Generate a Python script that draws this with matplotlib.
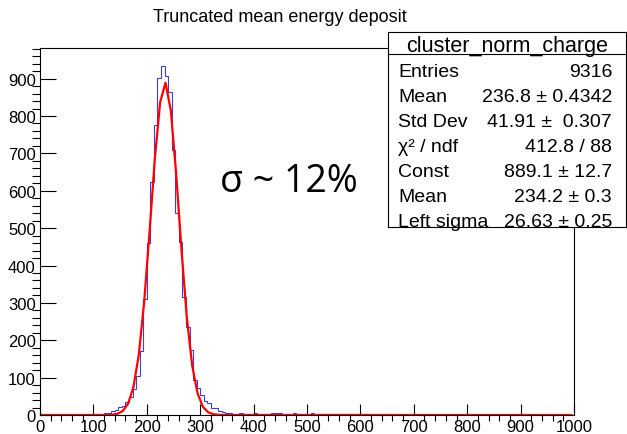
import matplotlib
matplotlib.use("Agg")
import matplotlib.pyplot as plt
import numpy as np

plt.rcParams['font.family'] = ['Liberation Sans', 'DejaVu Sans']

# histogram: 150 bins from 0 to 1000
x_min, x_max, n_bins = 0, 1000, 150
counts = [3, 1, 0, 1, 0, 0, 1, 0, 1, 0, 1, 0, 1, 1, 0,
          4, 3, 3, 5, 5,
          11, 14, 21, 25, 35, 48, 69, 104, 172, 310,
          459, 623, 777, 902, 935, 908, 864, 709, 541, 463,
          316, 235, 173, 94, 72, 53, 37, 33, 20, 18, 12, 9, 6, 5,
          4, 3, 5, 4, 3, 4, 5, 4, 3, 3, 4, 5, 6, 5, 4, 3, 4, 5, 4, 3,
          3, 4, 5, 4, 3, 2, 3, 4, 3, 2, 3, 2, 3, 2, 2, 3,
          1, 2, 1, 0, 1, 1, 0, 2, 1, 0, 1, 0, 1, 1, 0, 0, 1, 0, 1, 0,
          0, 1, 0, 0, 1, 0, 0, 0, 1, 0, 0, 0, 1, 0, 0, 0, 0, 1, 0, 0,
          0, 0, 0, 1, 0, 0, 0, 0, 0, 0, 0, 1, 0, 0, 0, 0, 0, 0, 0, 0]

# fitted curve points
fit_x = [5, 115, 125, 135, 145, 155, 165, 175, 185, 195, 205, 215, 225, 235,
         245, 255, 265, 275, 285, 295, 305, 315, 325, 335, 345, 995]
fit_y = [0, 0, 0.2, 0.9, 3.3, 10.7, 30.4, 75, 161, 301, 487, 685, 837, 889,
         815, 645, 441, 260, 132, 58, 22, 7.1, 2.0, 0.5, 0.1, 0]

title = "Truncated mean energy deposit"
stats_name = "cluster_norm_charge"
stats_labels = ["Entries", "Mean", "Std Dev", "χ² / ndf", "Const", "Mean", "Left sigma"]
stats_values = ["9316", "236.8 ± 0.4342", "41.91 ±  0.307", "412.8 / 88",
                "889.1 ± 12.7", "234.2 ± 0.3", "26.63 ± 0.25"]

W, H = 627, 435
fig = plt.figure(figsize=(W / 100, H / 100), dpi=100)
ax = fig.add_axes([40 / W, 1 - 416 / H, 534 / W, (416 - 49) / H])

edges = np.linspace(x_min, x_max, n_bins + 1)
ax.stairs(counts, edges, color='#4040d0', linewidth=0.8)
ax.plot(fit_x, fit_y, color='red', linewidth=1.6)

ax.set_xlim(x_min, x_max)
ax.set_ylim(0, 982)
ax.set_xticks(np.arange(0, 1001, 100))
ax.set_xticks(np.arange(0, 1001, 20), minor=True)
ax.set_yticks(np.arange(0, 901, 100))
ax.set_yticks(np.arange(0, 981, 20), minor=True)
ax.tick_params(axis='both', direction='in', labelsize=12, pad=3, width=0.8)
ax.tick_params(axis='y', which='major', length=11.3)
ax.tick_params(axis='y', which='minor', length=5.8, width=0.8)
ax.tick_params(axis='x', which='major', length=7.9)
ax.tick_params(axis='x', which='minor', length=4, width=0.8)
for s in ax.spines.values():
    s.set_linewidth(0.8)

fig.text(279.5 / W, 1 - 21.7 / H, title, ha='center', va='baseline', fontsize=13)

fig.text(220 / W, 1 - 192 / H, "σ ~ 12%", ha='left', va='baseline', fontsize=27,
         family=['Open Sans', 'DejaVu Sans'])

# stats box
bx0, by_top, bx1, by_bot = 388, 33, 626, 228
bh = by_bot - by_top
box = fig.add_axes([bx0 / W, 1 - by_bot / H, (bx1 - bx0) / W, bh / H])
box.set_xticks([])
box.set_yticks([])
box.set_xlim(0, 1)
box.set_ylim(0, 1)
for s in box.spines.values():
    s.set_linewidth(0.8)
box.axhline((by_bot - 55) / bh, color='black', linewidth=0.8)
box.text(0.5, (by_bot - 52) / bh, stats_name, ha='center', va='baseline', fontsize=15.5)
for k, (lab, val) in enumerate(zip(stats_labels, stats_values)):
    yb = (by_bot - (77 + 25 * k)) / bh
    box.text((398 - bx0) / (bx1 - bx0), yb, lab, ha='left', va='baseline', fontsize=14)
    box.text((612 - bx0) / (bx1 - bx0), yb, val, ha='right', va='baseline', fontsize=14)

fig.savefig("out.png", dpi=100)
